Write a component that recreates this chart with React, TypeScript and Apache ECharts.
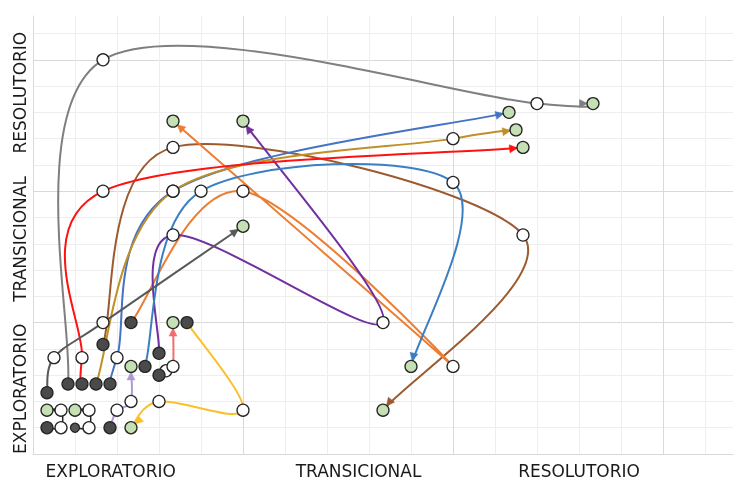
import React, { useEffect, useRef } from "react";
import * as echarts from "echarts";

// ---- axis labels (category names placed along value axes 0..10) ----
const AXIS_CATEGORIES = ["EXPLORATORIO", "TRANSICIONAL", "RESOLUTORIO"];
const X_LABEL_POS = [1.11, 4.65, 7.8];
const Y_LABEL_POS = [1.49, 4.91, 8.25];

// ---- trajectories: first point = start (dark), last = end (green) ----
const GRAY = [[0.5, 1.6], [1.0, 9.0], [7.2, 8.0], [8.0, 8.0]];
const RED = [[0.7, 1.6], [0.7, 2.2], [1.0, 6.0], [7.0, 7.0]];
const BROWN = [[1.0, 2.5], [2.0, 7.0], [7.0, 5.0], [5.0, 1.0]];
const GOLD = [[0.9, 1.6], [2.0, 6.0], [6.0, 7.2], [6.9, 7.4]];
const BLUE = [[1.1, 1.6], [1.2, 2.2], [2.0, 6.0], [6.8, 7.8]];
const STEEL = [[1.6, 2.0], [2.4, 6.0], [6.0, 6.2], [5.4, 2.0]];
const ORANGE = [[1.4, 3.0], [3.0, 6.0], [6.0, 2.0], [2.0, 7.6]];
const PURPLE = [[1.8, 2.3], [2.0, 5.0], [5.0, 3.0], [3.0, 7.6]];
const DARKGRAY = [[0.2, 1.4], [0.3, 2.2], [1.0, 3.0], [3.0, 5.2]];
const LILAC = [[1.1, 0.6], [1.2, 1.0], [1.4, 1.2], [1.4, 2.0]];
const SALMON = [[1.8, 1.8], [1.9, 1.9], [2.0, 2.0], [2.0, 3.0]];
const YELLOW = [[2.2, 3.0], [3.0, 1.0], [1.8, 1.2], [1.4, 0.6]];
const BLACK_A = [[0.2, 0.6], [0.4, 0.6], [0.4, 1.0], [0.2, 1.0]];
const BLACK_B = [[0.6, 0.6], [0.8, 0.6], [0.8, 1.0], [0.6, 1.0]];

const TRAJECTORIES = [
  { points: GRAY, color: "#7f7f7f", width: 2 },
  { points: BROWN, color: "#9c5a2e", width: 2 },
  { points: ORANGE, color: "#ed7d31", width: 2 },
  { points: PURPLE, color: "#7030a0", width: 2 },
  { points: STEEL, color: "#3a7fc4", width: 2 },
  { points: BLUE, color: "#4472c4", width: 2 },
  { points: GOLD, color: "#bf9027", width: 2 },
  { points: RED, color: "#ff1111", width: 2 },
  { points: DARKGRAY, color: "#595959", width: 2 },
  { points: LILAC, color: "#ab9ad6", width: 2 },
  { points: SALMON, color: "#f26d6d", width: 2 },
  { points: YELLOW, color: "#fbc02d", width: 2 },
  { points: BLACK_A, color: "#262626", width: 1.5 },
  { points: BLACK_B, color: "#262626", width: 1.5, smallStart: true },
];

const TENSION = 1 / 6;
const TIP_OFFSET = 5.5;
const ARROW_LEN = 8;
const ARROW_HALF = 4;

function buildPath(px: number[][]) {
  const n = px.length;
  let d = `M${px[0][0]},${px[0][1]}`;
  let lastC2 = px[0];
  for (let i = 0; i < n - 1; i++) {
    const p0 = px[Math.max(i - 1, 0)];
    const p1 = px[i];
    const p2 = px[i + 1];
    const p3 = px[Math.min(i + 2, n - 1)];
    const c1 = [p1[0] + (p2[0] - p0[0]) * TENSION, p1[1] + (p2[1] - p0[1]) * TENSION];
    const c2 = [p2[0] - (p3[0] - p1[0]) * TENSION, p2[1] - (p3[1] - p1[1]) * TENSION];
    d += ` C${c1[0]},${c1[1]} ${c2[0]},${c2[1]} ${p2[0]},${p2[1]}`;
    lastC2 = c2;
  }
  const end = px[n - 1];
  const dx = end[0] - lastC2[0];
  const dy = end[1] - lastC2[1];
  const len = Math.hypot(dx, dy) || 1;
  return { d, dir: [dx / len, dy / len] };
}

export default function App() {
  const ref = useRef<HTMLDivElement>(null);

  useEffect(() => {
    document.body.style.margin = "0";
    const chart = echarts.init(ref.current!, null, { renderer: "svg" });

    const starts: any[] = [];
    const mids: any[] = [];
    const ends: any[] = [];
    TRAJECTORIES.forEach((t: any) => {
      const pts = t.points;
      starts.push(
        t.smallStart
          ? { value: pts[0], symbolSize: 9, itemStyle: { color: "#555555" } }
          : { value: pts[0] }
      );
      for (let i = 1; i < pts.length - 1; i++) mids.push({ value: pts[i] });
      ends.push({ value: pts[pts.length - 1] });
    });

    const labelFont = {
      fontFamily: "DejaVu Sans, Verdana, sans-serif",
      fontSize: 17,
      color: "#1a1a1a",
    };

    const nearest = (arr: number[], v: number) => {
      let best = 0;
      arr.forEach((p, i) => {
        if (Math.abs(p - v) < Math.abs(arr[best] - v)) best = i;
      });
      return AXIS_CATEGORIES[best];
    };

    const circleStyle = { borderColor: "#262626", borderWidth: 1.3, opacity: 1 };

    const option: any = {
      animation: false,
      grid: { left: 33, right: 21, top: 16, bottom: 30 },
      xAxis: [
        {
          type: "value",
          min: 0,
          max: 10,
          interval: 0.6,
          axisLine: { show: true, lineStyle: { color: "#d9d9d9", width: 1 } },
          axisTick: { show: false },
          axisLabel: {
            ...labelFont,
            customValues: X_LABEL_POS,
            formatter: (v: number) => nearest(X_LABEL_POS, v),
            margin: 8,
          },
          splitLine: {
            show: true,
            showMinLine: false,
            showMaxLine: false,
            lineStyle: { color: "#eeeeee", width: 1 },
          },
        },
        {
          type: "value",
          min: 0,
          max: 10,
          interval: 3,
          position: "bottom",
          axisLine: { show: false },
          axisTick: { show: false },
          axisLabel: { show: false },
          splitLine: {
            show: true,
            showMinLine: false,
            showMaxLine: false,
            lineStyle: { color: "#d9d9d9", width: 1 },
          },
        },
      ],
      yAxis: [
        {
          type: "value",
          min: 0,
          max: 10,
          interval: 0.6,
          axisLine: { show: true, lineStyle: { color: "#d9d9d9", width: 1 } },
          axisTick: { show: false },
          axisLabel: {
            ...labelFont,
            customValues: Y_LABEL_POS,
            formatter: (v: number) => nearest(Y_LABEL_POS, v),
            rotate: 90,
            margin: 5,
          },
          splitLine: {
            show: true,
            showMinLine: false,
            showMaxLine: false,
            lineStyle: { color: "#eeeeee", width: 1 },
          },
        },
        {
          type: "value",
          min: 0,
          max: 10,
          interval: 3,
          position: "left",
          axisLine: { show: false },
          axisTick: { show: false },
          axisLabel: { show: false },
          splitLine: {
            show: true,
            showMinLine: false,
            showMaxLine: false,
            lineStyle: { color: "#d9d9d9", width: 1 },
          },
        },
      ],
      series: [
        {
          type: "custom",
          xAxisIndex: 0,
          yAxisIndex: 0,
          clip: false,
          z: 2,
          silent: true,
          data: TRAJECTORIES.map((t, i) => [t.points[0][0], t.points[0][1], i]),
          renderItem: (params: any, api: any) => {
            const tr: any = TRAJECTORIES[api.value(2)];
            const px = tr.points.map((p: number[]) => api.coord(p));
            const { d, dir } = buildPath(px);
            const end = px[px.length - 1];
            const tip = [end[0] - dir[0] * TIP_OFFSET, end[1] - dir[1] * TIP_OFFSET];
            const base = [tip[0] - dir[0] * ARROW_LEN, tip[1] - dir[1] * ARROW_LEN];
            const nrm = [-dir[1], dir[0]];
            const arrow = [
              tip,
              [base[0] + nrm[0] * ARROW_HALF, base[1] + nrm[1] * ARROW_HALF],
              [base[0] - nrm[0] * ARROW_HALF, base[1] - nrm[1] * ARROW_HALF],
            ];
            return {
              type: "group",
              children: [
                {
                  type: "path",
                  shape: { pathData: d },
                  style: { fill: "none", stroke: tr.color, lineWidth: tr.width },
                },
                {
                  type: "polygon",
                  shape: { points: arrow },
                  style: { fill: tr.color, stroke: tr.color, lineWidth: 0.5 },
                },
              ],
            };
          },
        },
        {
          type: "scatter",
          z: 3,
          symbol: "circle",
          symbolSize: 12,
          data: mids,
          itemStyle: { color: "#ffffff", ...circleStyle },
        },
        {
          type: "scatter",
          z: 4,
          symbol: "circle",
          symbolSize: 12,
          data: starts,
          itemStyle: { color: "#4a4a4a", ...circleStyle },
        },
        {
          type: "scatter",
          z: 4,
          symbol: "circle",
          symbolSize: 12,
          data: ends,
          itemStyle: { color: "#c5e0b4", ...circleStyle },
        },
      ],
    };

    chart.setOption(option);
    return () => chart.dispose();
  }, []);

  return (
    <div
      ref={ref}
      style={{ position: "fixed", left: 0, top: 0, width: 754, height: 484 }}
    />
  );
}
